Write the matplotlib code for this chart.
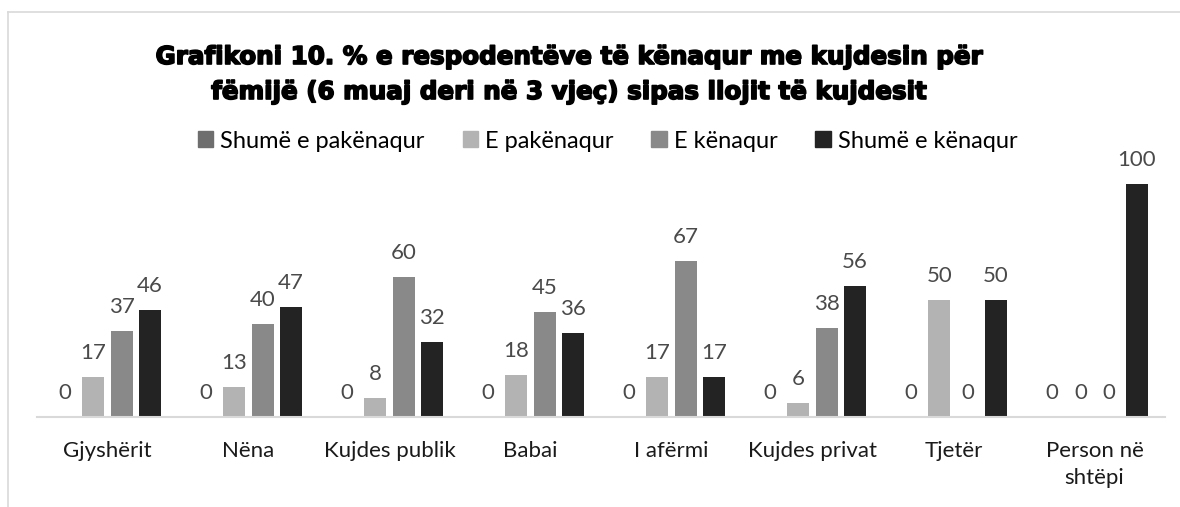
import matplotlib.pyplot as plt
import numpy as np
import matplotlib
import matplotlib.patheffects as pe
from matplotlib.patches import Rectangle
from matplotlib.lines import Line2D

matplotlib.rcParams['font.family'] = 'Lato'

categories = ['Gjyshërit', 'Nëna', 'Kujdes publik', 'Babai', 'I afërmi',
              'Kujdes privat', 'Tjetër', 'Person në\nshtëpi']
series_names = ['Shumë e pakënaqur', 'E pakënaqur', 'E kënaqur', 'Shumë e kënaqur']
shume_pakenaqur = [0, 0, 0, 0, 0, 0, 0, 0]
pakenaqur = [17, 13, 8, 18, 17, 6, 50, 0]
kenaqur = [37, 40, 60, 45, 67, 38, 0, 0]
shume_kenaqur = [46, 47, 32, 36, 17, 56, 50, 100]

colors = ['#6e6e6e', '#b3b3b3', '#898989', '#232323']
values = [shume_pakenaqur, pakenaqur, kenaqur, shume_kenaqur]

W, H = 1180, 507
fig = plt.figure(figsize=(W / 100, H / 100), dpi=100)
ax = fig.add_axes([37 / W, (H - 417) / H, 1128 / W, 280 / H])

x = np.arange(len(categories))
pitch = 0.2
bw = 0.156
for i, (vals, col) in enumerate(zip(values, colors)):
    pos = x + (i - 1.5) * pitch
    ax.bar(pos, vals, bw, color=col, zorder=2)
    for px, v in zip(pos, vals):
        ax.annotate(str(v), (px, v), xytext=(0, 10), textcoords='offset points',
                    ha='center', va='bottom', fontsize=16, color='#4a4a4a')

ax.set_xlim(-0.5, len(categories) - 0.5)
ax.set_ylim(0, 120)
ax.set_yticks([])
ax.set_xticks(x)
ax.set_xticklabels(categories, fontsize=16, color='#1a1a1a', linespacing=1.45)
ax.tick_params(axis='x', length=0, pad=17)
for s in ['top', 'left', 'right']:
    ax.spines[s].set_visible(False)
ax.spines['bottom'].set_color('#d9d9d9')
ax.spines['bottom'].set_linewidth(1.5)

# title (heavy face faked with a stroke)
title_font = dict(ha='center', va='center', fontsize=17.7, fontweight='bold',
                  family='DejaVu Sans', color='black',
                  path_effects=[pe.withStroke(linewidth=1.2, foreground='black')])
fig.text(0.483, 1 - 57 / H, 'Grafikoni 10. % e respodentëve të kënaqur me kujdesin për',
         **title_font)
fig.text(0.483, 1 - 92 / H, 'fëmijë (6 muaj deri në 3 vjeç) sipas llojit të kujdesit',
         **title_font)

# legend
handles = [Rectangle((0, 0), 1, 1, color=c) for c in colors]
fig.legend(handles, series_names, loc='center', bbox_to_anchor=(0.515, 1 - 141 / H),
           ncol=4, frameon=False, fontsize=17, handlelength=0.65, handleheight=0.65,
           handletextpad=0.3, columnspacing=1.6)

# outer border (top and left)
fig.add_artist(Line2D([8 / W, 8 / W], [0, 1 - 12 / H], color='#d9d9d9', lw=1.2))
fig.add_artist(Line2D([8 / W, 1], [1 - 12 / H, 1 - 12 / H], color='#d9d9d9', lw=1.2))

plt.savefig('out.png', dpi=100)
plt.close()
